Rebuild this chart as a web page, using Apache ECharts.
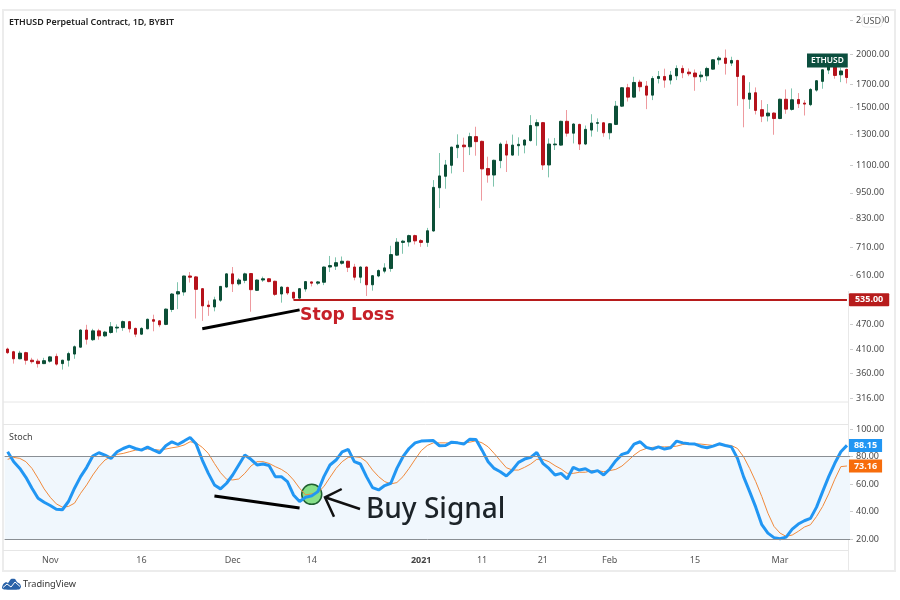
<!DOCTYPE html>
<html>
<head>
<meta charset="utf-8">
<style>
    html, body { margin: 0; padding: 0; background: #fff; }
    #chart { width: 900px; height: 600px; }
</style>
<script src="https://cdn.jsdelivr.net/npm/echarts@6/dist/echarts.min.js"></script>
</head>
<body>
<div id="chart"></div>
<script>
const opens = [
    411,405,390,403,387,385,380,385,395,380,
    387,400,415,455,432,453,441,449,460,461,
    476,459,445,458,481,478,469,508,552,558,
    608,605,568,520,515,534,573,615,583,594,
    616,563,595,599,591,552,572,557,540,567,
    589,585,588,638,641,651,658,638,604,638,
    580,608,624,633,680,728,730,755,735,728,
    774,976,1038,1101,1210,1227,1216,1284,1252,1082,
    1045,1129,1232,1163,1223,1227,1257,1361,1384,1103,
    1229,1227,1394,1308,1371,1234,1330,1379,1383,1311,
    1371,1512,1669,1587,1720,1684,1604,1754,1773,1739,
    1779,1851,1815,1806,1770,1779,1844,1939,1957,1905,
    1932,1779,1569,1625,1484,1435,1457,1415,1569,1486,
    1567,1537,1524,1648,1727,1835,1868,1789,1841
];
const closes = [
    403,390,402,387,384,380,386,394,379,387,
    401,416,455,433,453,441,450,463,462,476,
    458,445,459,482,477,468,509,552,559,608,
    604,566,518,516,535,575,615,583,595,615,
    565,595,599,590,551,573,555,540,568,590,
    585,589,638,643,653,658,637,604,638,580,
    609,626,635,682,729,733,755,734,728,775,
    978,1040,1103,1214,1227,1216,1284,1250,1080,1045,
    1131,1234,1163,1227,1232,1261,1363,1384,1103,1234,
    1234,1394,1308,1374,1234,1335,1381,1384,1311,1376,
    1512,1669,1587,1717,1678,1604,1754,1773,1739,1786,
    1851,1809,1799,1770,1786,1851,1939,1957,1902,1932,
    1773,1573,1622,1478,1433,1457,1415,1569,1488,1565,
    1532,1529,1654,1733,1838,1868,1783,1826,1764
];
const highs = [
    414,407,407,405,392,390,392,396,401,388,
    405,419,457,468,458,458,453,475,469,479,
    478,461,462,484,494,480,511,555,588,609,
    621,608,570,533,544,576,617,638,601,619,
    618,597,606,601,593,575,574,559,570,592,
    590,592,640,677,672,675,660,649,640,640,
    611,630,651,715,745,738,759,759,741,787,
    1017,1176,1133,1216,1300,1277,1311,1354,1257,1153,
    1135,1245,1257,1298,1279,1266,1441,1409,1389,1272,
    1275,1399,1481,1379,1376,1363,1448,1416,1388,1381,
    1555,1675,1704,1770,1742,1730,1776,1826,1849,1826,
    1882,1882,1851,1841,1822,1868,1946,1978,2049,1971,
    1939,1786,1720,1672,1562,1529,1463,1575,1654,1663,
    1622,1562,1666,1739,1844,1902,1908,1858,1851
];
const lows = [
    400,380,389,378,380,372,379,382,376,368,
    374,390,414,421,429,432,438,446,449,453,
    449,438,443,457,452,462,467,501,509,547,
    587,484,478,491,503,529,571,558,578,585,
    502,561,589,588,546,527,549,535,537,559,
    575,579,579,621,628,646,621,594,585,546,
    562,604,617,622,677,685,712,720,711,711,
    771,875,971,1054,1144,1062,1163,1159,911,1003,
    982,1084,1062,1159,1159,1174,1250,1223,1074,1032,
    1195,1223,1284,1238,1195,1227,1284,1318,1283,1265,
    1366,1505,1550,1582,1636,1488,1562,1708,1669,1699,
    1739,1757,1776,1642,1720,1733,1838,1889,1791,1875,
    1515,1350,1490,1446,1388,1393,1297,1410,1451,1476,
    1497,1438,1512,1634,1660,1796,1752,1720,1708
];
const stochK = [
    83.5,76.3,71.4,64.9,57,49.7,46.8,44.4,41.7,41.3,
    47.3,57,65.4,72.2,80.4,82.8,81.1,78.7,83.5,85.9,
    87.6,85.9,84.7,86.9,84.7,82.8,87.9,90.8,88.8,91.3,
    93.9,89.1,77.5,67.8,59.4,56.5,60.6,66.6,73.9,81.1,
    78,73.9,74.6,73.4,65.4,65.4,61.8,52.1,47.3,50.4,
    51.4,54.5,65.4,73.9,77.5,83.5,85.2,76.3,74.6,65.4,
    57.4,55.7,58.9,60.6,71.4,79.9,85.9,90,91.3,91.5,
    91.7,87.9,88.1,90.5,90,89.1,92.7,92.5,84.7,76.3,
    71.4,69,65.9,70.2,75.8,78.2,79.4,83,75.1,71.4,
    66.6,67.8,63.7,72.2,70.2,71.2,68.6,69.8,66.6,71,
    77,81.6,83,89.1,90.8,86.7,85.5,87.1,85.5,86.4,
    91.3,90,89.3,89.1,87.4,86.4,87.6,89.3,88.1,87.1,
    78.7,65.4,54.5,43.2,30.4,24.3,21,20.2,21.4,27.2,
    30.9,33.3,35,43.2,54.5,65.4,75.1,83.5,88.15
];
const stochD = [
    78,79.4,78.7,76.3,71.4,64.2,56.5,50.4,45.6,43.2,
    43.7,46.1,53.3,59.4,66.6,72.7,77.5,79.9,81.6,82.3,
    83.5,84.7,85.2,85.5,85.2,84.7,85.5,86.4,87.1,88.4,
    90.8,90,86.7,82.3,75,68.3,63.5,63,63.7,67.8,
    73.1,76.3,76.3,75,72.7,70.7,67.8,63,57,52.1,
    52.9,53.8,58.2,64.9,71.4,76.3,79.4,79.9,79.4,76.3,
    70.2,65.4,61.8,60.1,61.1,65.4,71.4,78,84.3,88.1,
    90,90,90,89.6,90,90,90.5,91.5,90,87.1,
    82.3,77,71.9,70.2,70.2,72.2,74.6,78,78,76.3,
    73.4,71,67.8,67.8,68.6,68.6,69.8,69.8,69,69.8,
    70.7,73.1,77,81.1,84.3,85.9,86.7,87.1,87.1,87.1,
    87.6,88.8,89.3,89.3,89.1,88.6,88.1,88.6,88.4,88.1,
    85.9,79.9,71.4,61.8,50.9,38.8,29.2,24.3,21.9,22.9,
    25.6,28.7,30.4,36.4,43.7,52.9,63.5,72.7,73.16
];

// one category per day, starting 2020-10-25
const categories = [];
for (let i = 0; i < opens.length; i++) {
    categories.push(new Date(Date.UTC(2020, 9, 25 + i)).toISOString().slice(0, 10));
}

const priceTicks = [316, 360, 410, 470, 610, 710, 830, 950, 1100, 1300, 1500, 1700, 2000, 2400];
const stochTicks = [20, 40, 60, 80, 100];
const timeTickDates = ['2020-11-01', '2020-11-16', '2020-12-01', '2020-12-14', '2021-01-01', '2021-01-11', '2021-01-21', '2021-02-01', '2021-02-15', '2021-03-01'];
const timeTickLabels = ['Nov', '16', 'Dec', '14', '2021', '11', '21', 'Feb', '15', 'Mar'];

const stopLoss = 535;
const priceTrend = [[32, 458], [48, 507]];
const stochTrend = [[34, 51.3], [48, 42.5]];
const buySignal = [[50, 52.5]];

const UP = '#0c4f37', DOWN = '#b5121b', UP_WICK = '#7fc4ad', DOWN_WICK = '#ee9a9f';
const FONT = '"Noto Sans", sans-serif';

const wickData = opens.map((o, i) => [o, closes[i], lows[i], highs[i]]);
const bodyData = opens.map((o, i) => [o, closes[i], Math.min(o, closes[i]), Math.max(o, closes[i])]);

const chart = echarts.init(document.getElementById('chart'), null, { renderer: 'canvas' });

function hline(x1, y1, x2, y2, color) {
    return { type: 'line', z: 1, silent: true, shape: { x1, y1, x2, y2 }, style: { stroke: color, lineWidth: 1 } };
}

chart.setOption({
    animation: false,
    backgroundColor: '#fff',
    grid: [
        { left: 4.6, width: 845.4, top: 11, height: 391 },
        { left: 4.6, width: 845.4, top: 425, height: 125 }
    ],
    xAxis: [
        { type: 'category', gridIndex: 0, data: categories, axisLine: { show: false }, axisTick: { show: false }, axisLabel: { show: false }, splitLine: { show: false } },
        {
            type: 'category', gridIndex: 1, data: categories,
            axisLine: { show: false }, axisTick: { show: false }, splitLine: { show: false },
            axisLabel: {
                margin: 6, hideOverlap: false, fontFamily: FONT, fontSize: 9, color: '#555',
                interval: (i, v) => timeTickDates.includes(v),
                formatter: v => {
                    const label = timeTickLabels[timeTickDates.indexOf(v)];
                    return label === '2021' ? '{b|2021}' : label;
                },
                rich: { b: { fontWeight: 'bold', fontFamily: FONT, fontSize: 9, color: '#444' } }
            }
        }
    ],
    yAxis: [
        {
            type: 'log', logBase: 10, gridIndex: 0, position: 'right', min: 309.3, max: 2519, z: 6,
            axisLine: { show: false }, splitLine: { show: false }, minorTick: { show: false },
            axisTick: { show: true, length: 3, lineStyle: { color: '#ccc' }, customValues: priceTicks },
            axisLabel: {
                margin: 6, fontFamily: FONT, fontSize: 9, color: '#4a4a4a', customValues: priceTicks,
                formatter: v => Number(v).toFixed(2)
            }
        },
        {
            type: 'value', gridIndex: 1, position: 'right', min: 12, max: 103, z: 6,
            axisLine: { show: false }, splitLine: { show: false },
            axisTick: { show: true, length: 3, lineStyle: { color: '#ccc' }, customValues: stochTicks },
            axisLabel: {
                margin: 6, fontFamily: FONT, fontSize: 9, color: '#4a4a4a', customValues: stochTicks,
                formatter: v => Number(v).toFixed(2)
            }
        }
    ],
    series: [
        {
            name: 'wick', type: 'candlestick', xAxisIndex: 0, yAxisIndex: 0, z: 2, barWidth: 1, data: wickData,
            itemStyle: { color: UP_WICK, color0: DOWN_WICK, borderColor: UP_WICK, borderColor0: DOWN_WICK, borderColorDoji: UP_WICK, borderWidth: 1 }
        },
        {
            name: 'body', type: 'candlestick', xAxisIndex: 0, yAxisIndex: 0, z: 3, barWidth: 3, data: bodyData,
            itemStyle: { color: UP, color0: DOWN, borderColor: UP, borderColor0: DOWN, borderColorDoji: UP, borderWidth: 1 },
            markLine: {
                silent: true, symbol: 'none', animation: false,
                data: [
                    [
                        { coord: [47, stopLoss], lineStyle: { color: '#b71c1c', width: 2, type: 'solid' }, label: {
                            show: true, position: 'end', distance: 2, formatter: stopLoss.toFixed(2), color: '#fff', fontFamily: FONT, fontSize: 9, fontWeight: 'bold',
                            backgroundColor: '#b71c1c', padding: [2, 6], borderRadius: 1 } },
                        { coord: [138, stopLoss] }
                    ],
                    [
                        { coord: priceTrend[0], lineStyle: { color: '#000', width: 3, type: 'solid' }, label: { show: false } },
                        { coord: priceTrend[1] }
                    ]
                ]
            }
        },
        {
            name: 'buy signal', type: 'scatter', xAxisIndex: 1, yAxisIndex: 1, z: 2, data: buySignal, symbol: 'circle', symbolSize: 20,
            itemStyle: { color: '#88e08a', borderColor: '#1f5f30', borderWidth: 1.5, opacity: 1 }
        },
        {
            name: '%K', type: 'line', xAxisIndex: 1, yAxisIndex: 1, z: 4, data: stochK, showSymbol: false, symbol: 'none', smooth: false,
            lineStyle: { color: '#2196f3', width: 3 },
            endLabel: {
                show: true, distance: 2, formatter: () => stochK[stochK.length - 1].toFixed(2), color: '#fff', fontFamily: FONT, fontSize: 9, fontWeight: 'bold',
                backgroundColor: '#2196f3', padding: [2, 5]
            },
            markArea: {
                silent: true,
                itemStyle: { color: '#f0f7fd' },
                data: [[{ yAxis: 80 }, { yAxis: 20 }]]
            },
            markLine: {
                silent: true, symbol: 'none', animation: false,
                label: { show: false },
                lineStyle: { color: '#8a8f94', width: 1, type: 'solid' },
                data: [{ yAxis: 80 }, { yAxis: 20 }]
            }
        },
        {
            name: '%D', type: 'line', xAxisIndex: 1, yAxisIndex: 1, z: 3, data: stochD, showSymbol: false, symbol: 'none', smooth: false,
            lineStyle: { color: '#f08a3c', width: 1 },
            endLabel: {
                show: true, distance: 2, formatter: () => stochD[stochD.length - 1].toFixed(2), color: '#fff', fontFamily: FONT, fontSize: 9, fontWeight: 'bold',
                backgroundColor: '#f76d0c', padding: [2, 5]
            },
            markLine: {
                silent: true, symbol: 'none', animation: false,
                data: [[
                    { coord: stochTrend[0], lineStyle: { color: '#000', width: 3, type: 'solid' }, label: { show: false } },
                    { coord: stochTrend[1] }
                ]]
            }
        }
    ],
    graphic: [
        // panel frame and separators
        { type: 'rect', z: 0, silent: true, shape: { x: 3, y: 10, width: 892, height: 561 }, style: { fill: 'none', stroke: '#ececec', lineWidth: 2 } },
        hline(3, 402, 848, 402, '#e6e6e6'),
        hline(3, 424.5, 848, 424.5, '#e6e6e6'),
        hline(3, 550.5, 848, 550.5, '#e6e6e6'),
        // hides the part of the last candle that runs under the scale
        { type: 'rect', z: 5, silent: true, shape: { x: 848, y: 11, width: 2, height: 280 }, style: { fill: '#fff' } },
        hline(848.5, 10, 848.5, 571, '#e8e8e8'),
        { type: 'text', z: 10, style: { x: 9, y: 22, text: 'ETHUSD Perpetual Contract, 1D, BYBIT', fill: '#222', font: '600 8.9px ' + FONT, textVerticalAlign: 'middle' } },
        { type: 'text', z: 10, style: { x: 9, y: 437, text: 'Stoch', fill: '#444', font: '9px ' + FONT, textVerticalAlign: 'middle' } },
        { type: 'text', z: 10, style: { x: 807, y: 60.5, text: 'ETHUSD', fill: '#fff', font: '600 8.4px ' + FONT, textVerticalAlign: 'middle', backgroundColor: '#0c4f3f', padding: [3, 4] } },
        { type: 'rect', z: 10, shape: { x: 862, y: 14, width: 20, height: 13, r: 3 }, style: { fill: '#fff', stroke: '#eee' } },
        { type: 'text', z: 11, style: { x: 872, y: 21, text: 'USD', fill: '#555', font: '9px ' + FONT, textAlign: 'center', textVerticalAlign: 'middle' } },
        { type: 'text', z: 10, style: { x: 300, y: 315.5, text: 'Stop Loss', fill: '#c62028', font: 'bold 17.3px "DejaVu Sans"', textVerticalAlign: 'middle' } },
        { type: 'text', z: 10, style: { x: 366, y: 510.5, text: 'Buy Signal', fill: '#1c2328', font: '500 28px ' + FONT, textVerticalAlign: 'middle' } },
        // arrow to the circled signal
        { type: 'polyline', z: 10, shape: { points: [[360, 509], [325, 497.3]] }, style: { stroke: '#111', lineWidth: 2.5, fill: 'none' } },
        { type: 'polyline', z: 10, shape: { points: [[341.7, 489], [325, 497.3], [334, 516.7]] }, style: { stroke: '#111', lineWidth: 2.5, fill: 'none' } },
        // TradingView logo
        { type: 'polygon', z: 10, shape: { smooth: 0.2, points: [[2, 588], [3, 584.5], [6, 582], [8, 583], [11, 579], [15, 579], [17, 582], [20, 584], [21, 587], [19, 589.5], [4, 589.5]] }, style: { fill: '#2962a8' } },
        { type: 'polyline', z: 11, shape: { points: [[3, 587.5], [7, 584], [11, 587], [15, 582], [20, 586.5]] }, style: { stroke: '#fff', lineWidth: 1, fill: 'none' } },
        { type: 'text', z: 10, style: { x: 23, y: 584.5, text: 'TradingView', fill: '#333', font: '9.2px ' + FONT, textVerticalAlign: 'middle' } }
    ]
});
</script>
</body>
</html>
